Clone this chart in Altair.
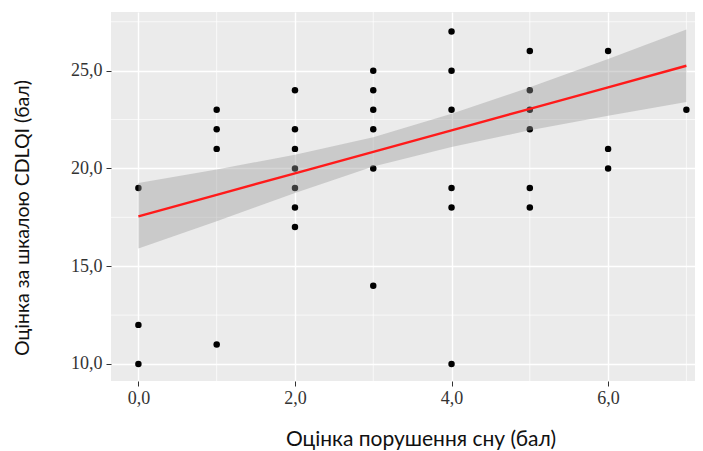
import altair as alt
import pandas as pd

# Scatter data: sleep disturbance score (x) vs CDLQI score (y)
pts_x = [0, 0, 0,
         1, 1, 1, 1,
         2, 2, 2, 2, 2, 2, 2,
         3, 3, 3, 3, 3, 3,
         4, 4, 4, 4, 4, 4,
         5, 5, 5, 5, 5, 5,
         6, 6, 6,
         7]
pts_y = [19, 12, 10,
         23, 22, 21, 11,
         24, 22, 21, 20, 19, 18, 17,
         25, 24, 23, 22, 20, 14,
         27, 25, 23, 19, 18, 10,
         26, 24, 23, 22, 19, 18,
         26, 21, 20,
         23]

# Fitted line and confidence band
fit_x = [0, 1, 2, 3, 4, 5, 6, 7]
fit_y = [17.55, 18.65, 19.75, 20.85, 21.95, 23.05, 24.15, 25.25]
band_lo = [15.9, 17.3, 18.75, 20.1, 21.1, 21.95, 22.7, 23.4]
band_hi = [19.25, 19.95, 20.7, 21.6, 22.8, 24.15, 25.6, 27.1]

x_ticks = [0, 2, 4, 6]
y_ticks = [10, 15, 20, 25]
x_minor = [1, 3, 5, 7]
y_minor = [12.5, 17.5, 22.5, 27.5]

X_DOM = [-0.35, 7.11]
Y_DOM = [9.13, 28.0]

pts = pd.DataFrame({"x": pts_x, "y": pts_y})
fit = pd.DataFrame({"x": fit_x, "y": fit_y, "lo": band_lo, "hi": band_hi})
xm = pd.DataFrame({"x": x_minor})
ym = pd.DataFrame({"y": y_minor})

label_expr = "replace(format(datum.value, '.1f'), '.', ',')"

xscale = alt.Scale(domain=X_DOM, nice=False, zero=False)
yscale = alt.Scale(domain=Y_DOM, nice=False, zero=False)

xaxis = alt.Axis(values=x_ticks, labelExpr=label_expr, grid=True, gridColor="white",
                 gridWidth=1.4, domain=False, tickColor="#333333", tickSize=5, tickWidth=1,
                 labelFont="Liberation Serif", labelFontSize=18, labelColor="#333333",
                 labelPadding=3,
                 title="Оцінка порушення сну (бал)", titleFont="Lato", titleFontSize=21,
                 titleFontWeight="normal", titleColor="#111111",
                 titleX=309.5, titleY=64, titleAlign="center", titleBaseline="alphabetic")
yaxis = alt.Axis(values=y_ticks, labelExpr=label_expr, grid=True, gridColor="white",
                 gridWidth=1.4, domain=False, tickColor="#333333", tickSize=5, tickWidth=1,
                 labelFont="Liberation Serif", labelFontSize=18, labelColor="#333333",
                 labelPadding=4,
                 title="Оцінка за шкалою CDLQI (бал)", titleFont="Lato", titleFontSize=19.5,
                 titleFontWeight="normal", titleColor="#111111",
                 titleX=-89, titleY=205.5, titleAngle=270, titleAlign="center",
                 titleBaseline="middle")

minor_x = alt.Chart(xm).mark_rule(color="white", strokeWidth=0.7).encode(
    x=alt.X("x:Q", scale=xscale, axis=xaxis))
minor_y = alt.Chart(ym).mark_rule(color="white", strokeWidth=0.7).encode(
    y=alt.Y("y:Q", scale=yscale, axis=yaxis))

points = alt.Chart(pts).mark_circle(color="black", size=42, opacity=1).encode(
    x=alt.X("x:Q", scale=xscale, axis=xaxis),
    y=alt.Y("y:Q", scale=yscale, axis=yaxis))

band = alt.Chart(fit).mark_area(color="#999999", opacity=0.4).encode(
    x=alt.X("x:Q", scale=xscale, axis=xaxis),
    y=alt.Y("lo:Q", scale=yscale, axis=yaxis),
    y2="hi:Q")

line = alt.Chart(fit).mark_line(color="#FF1A1A", strokeWidth=2.4).encode(
    x=alt.X("x:Q", scale=xscale, axis=xaxis),
    y=alt.Y("y:Q", scale=yscale, axis=yaxis))

chart = alt.layer(minor_x, minor_y, points, band, line).properties(
    width=584, height=369,
    padding={"left": 103, "top": 4, "right": 0, "bottom": 70},
    autosize=alt.AutoSizeParams(type="none"),
    background="white",
).configure_view(fill="#EBEBEB", stroke=None)

chart.save("out.html", embed_options={"renderer": "svg", "actions": False})
